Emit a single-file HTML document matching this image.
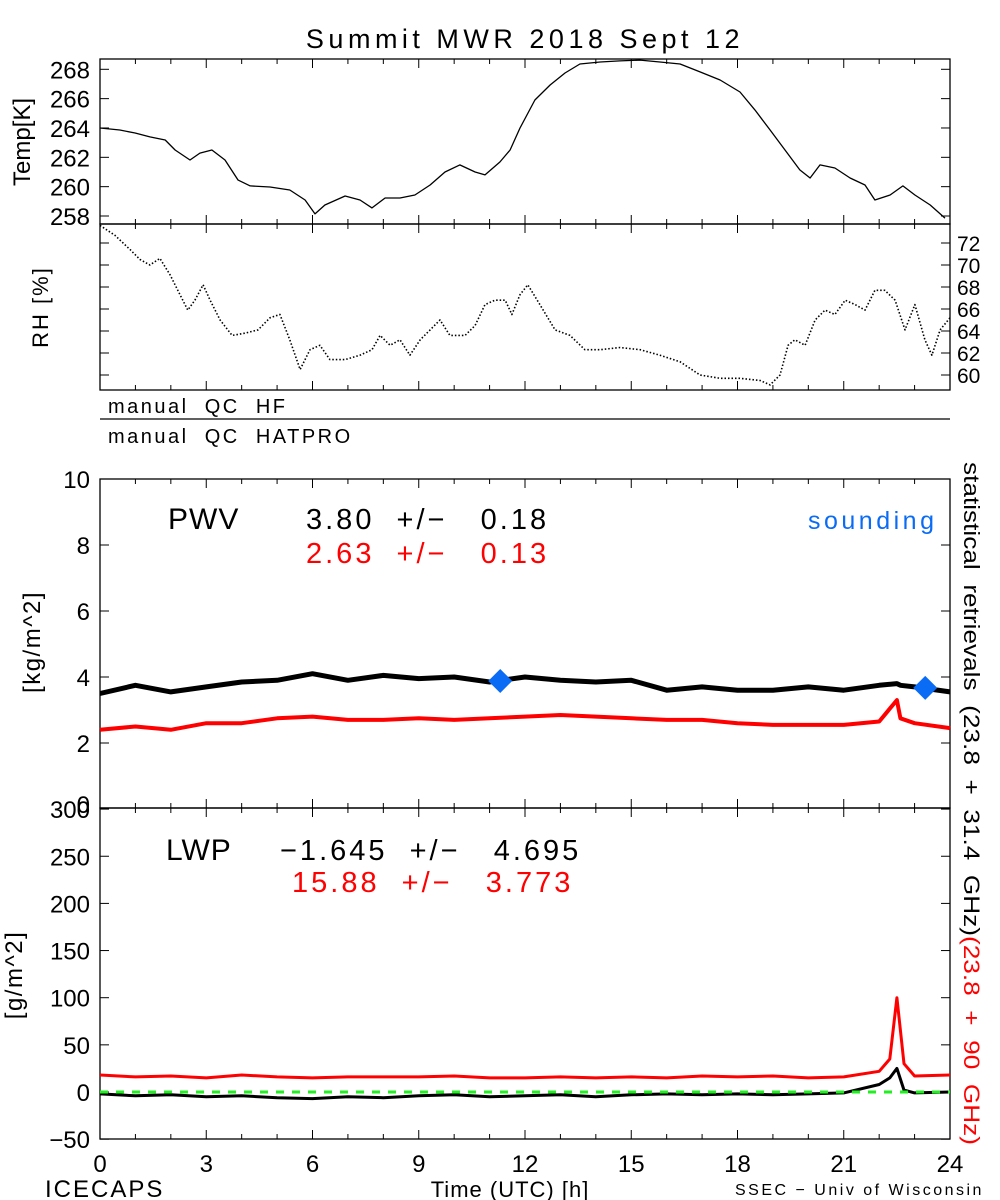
<!DOCTYPE html>
<html><head><meta charset="utf-8"><style>
body{margin:0;background:#fff;}
svg{display:block;font-family:"Liberation Sans",sans-serif;}
text{white-space:pre;}
</style></head><body>
<svg id="chart" width="1000" height="1200" viewBox="0 0 1000 1200"></svg>
<script>
const tempHours=[0,0.56,0.99,1.41,1.84,2.12,2.54,2.82,3.16,3.53,3.9,4.24,4.8,5.36,5.79,6.07,6.35,6.92,7.34,7.68,8.05,8.47,8.89,9.32,9.74,10.16,10.59,10.87,11.29,11.58,11.86,12.28,12.71,13.13,13.55,14.12,14.68,15.25,15.81,16.38,16.94,17.51,18.07,18.49,18.92,19.34,19.76,20.05,20.33,20.75,21.18,21.6,21.88,22.31,22.67,23.01,23.44,23.86];
const tempVals=[264.0,263.86,263.66,263.39,263.18,262.5,261.82,262.29,262.5,261.82,260.45,260.05,259.98,259.77,259.09,258.14,258.75,259.36,259.09,258.55,259.23,259.23,259.43,260.11,261.0,261.48,261.0,260.8,261.68,262.5,264.0,265.91,266.93,267.75,268.36,268.5,268.57,268.63,268.5,268.36,267.82,267.27,266.45,265.23,263.86,262.5,261.14,260.59,261.48,261.27,260.59,260.11,259.09,259.43,260.05,259.43,258.75,257.86];
const rhHours=[0,0.42,0.85,1.13,1.41,1.69,1.98,2.26,2.48,2.68,2.91,3.11,3.39,3.73,4.09,4.46,4.8,5.08,5.36,5.65,5.93,6.21,6.49,6.92,7.34,7.68,7.91,8.19,8.47,8.75,9.04,9.32,9.6,9.88,10.31,10.59,10.87,11.15,11.44,11.63,11.86,12.08,12.42,12.85,13.27,13.69,14.12,14.68,15.25,15.81,16.38,16.94,17.51,18.07,18.64,18.92,19.2,19.43,19.62,19.91,20.19,20.47,20.75,21.04,21.32,21.6,21.88,22.16,22.45,22.73,23.01,23.29,23.49,23.72,24];
const rhVals=[73.6,72.7,71.4,70.5,70.0,70.6,69.1,67.3,65.9,66.8,68.2,66.8,65.0,63.6,63.8,64.1,65.2,65.5,63.2,60.5,62.3,62.7,61.4,61.4,61.8,62.3,63.6,62.7,63.2,61.8,63.2,64.1,65.0,63.6,63.6,64.5,66.4,66.8,66.8,65.5,67.3,68.2,66.4,64.1,63.6,62.3,62.3,62.5,62.3,61.8,61.2,60.0,59.7,59.7,59.5,59.1,60.0,62.7,63.2,62.7,65.0,65.9,65.5,66.8,66.4,65.9,67.7,67.7,66.8,64.1,66.4,63.2,61.8,64.1,65.2];
const pwvHours=[0,1,2,3,4,5,6,7,8,9,10,11,12,13,14,15,16,17,18,19,20,21,22,22.5,22.6,23,24];
const pwvBlack=[3.5,3.75,3.55,3.7,3.85,3.9,4.1,3.9,4.05,3.95,4.0,3.85,4.0,3.9,3.85,3.9,3.6,3.7,3.6,3.6,3.7,3.6,3.75,3.8,3.75,3.7,3.55];
const pwvRed=[2.4,2.5,2.4,2.6,2.6,2.75,2.8,2.7,2.7,2.75,2.7,2.75,2.8,2.85,2.8,2.75,2.7,2.7,2.6,2.55,2.55,2.55,2.65,3.3,2.75,2.6,2.45];
const soundHours=[11.3,23.3];
const soundVals=[3.88,3.67];
const lwpHours=[0,1,2,3,4,5,6,7,8,9,10,11,12,13,14,15,16,17,18,19,20,21,22,22.3,22.5,22.7,23,24];
const lwpRed=[18,16,17,15,18,16,15,16,16,16,17,15,15,16,15,16,15,17,16,17,15,16,22,35,100,30,17,18];
const lwpBlack=[-2,-4,-3,-5,-4,-6,-7,-5,-6,-4,-3,-5,-4,-3,-5,-3,-2,-3,-2,-3,-2,-1,8,15,25,2,-1,0];
const tempTicks=[258,260,262,264,266,268];
const rhTicks=[60,62,64,66,68,70,72];
const pwvTicks=[0,2,4,6,8,10];
const lwpTicks=[-50,0,50,100,150,200,250,300];
const xTicks=[0,3,6,9,12,15,18,21,24];

const NS="http://www.w3.org/2000/svg";
const svg=document.getElementById('chart');
function el(tag,attrs,parent){const e=document.createElementNS(NS,tag);for(const k in attrs)e.setAttribute(k,attrs[k]);(parent||svg).appendChild(e);return e;}
function txt(s,x,y,size,opts){const t=el('text',Object.assign({x:x,y:y,'font-size':size,fill:'#000'},opts||{}));t.textContent=s;return t;}
const X0=100,X1=950;
const xs=h=>X0+h*(X1-X0)/24;
const yT=v=>216-(v-258)*14.67;
const yRH=v=>375-(v-60)*11;
const yP=v=>809-v*33;
const yL=v=>1092-v*0.943;

function frame(name,top,bot){
  const r=el('rect',{x:X0,y:top,width:X1-X0,height:bot-top,fill:'none',stroke:'#000','stroke-width':1.3});
  
  for(let h=0;h<=24;h++){const L=h%3===0?9:5;
    el('line',{x1:xs(h),x2:xs(h),y1:bot,y2:bot-L,stroke:'#000'});
    el('line',{x1:xs(h),x2:xs(h),y1:top,y2:top+L,stroke:'#000'});}
}
function line(name,hs,vs,ys,color,w,dash){
  const d=hs.map((h,i)=>(i?'L':'M')+xs(h).toFixed(1)+','+ys(vs[i]).toFixed(1)).join('');
  const p=el('path',{d:d,fill:'none',stroke:color,'stroke-width':w,'stroke-linejoin':'round'});
  if(dash)p.setAttribute('stroke-dasharray',dash);
  
}
let t=txt('Summit MWR 2018 Sept 12',525,48,27,{'text-anchor':'middle','letter-spacing':4.5});


frame('temp-panel',59,224);
tempTicks.forEach(v=>{el('line',{x1:X0,x2:X0+9,y1:yT(v),y2:yT(v),stroke:'#000'});el('line',{x1:X1,x2:X1-9,y1:yT(v),y2:yT(v),stroke:'#000'});
  const l=txt(String(v),90,yT(v)+9,24,{'text-anchor':'end'});});
line('temp-line',tempHours,tempVals,yT,'#000',1.3);
t=txt('Temp[K]',0,0,24,{transform:'translate(30,142) rotate(-90)','text-anchor':'middle'});


frame('rh-panel',224,390);
rhTicks.forEach(v=>{el('line',{x1:X1,x2:X1-9,y1:yRH(v),y2:yRH(v),stroke:'#000'});el('line',{x1:X0,x2:X0+9,y1:yRH(v),y2:yRH(v),stroke:'#000'});
  const l=txt(String(v),957,yRH(v)+8,21,{});});
line('rh-line',rhHours,rhVals,yRH,'#000',1.6,'1.5 2');
t=txt('RH [%]',0,0,22,{transform:'translate(48,307) rotate(-90)','text-anchor':'middle','letter-spacing':2});


t=txt('manual  QC  HF',108,413,20,{'letter-spacing':2.5});
el('line',{x1:X0,x2:X1,y1:419,y2:419,stroke:'#000','stroke-width':1.3});
t=txt('manual  QC  HATPRO',108,443,20,{'letter-spacing':2.5});

frame('pwv-panel',479,808);
pwvTicks.forEach(v=>{el('line',{x1:X0,x2:X0+9,y1:yP(v),y2:yP(v),stroke:'#000'});el('line',{x1:X1,x2:X1-9,y1:yP(v),y2:yP(v),stroke:'#000'});
  const l=txt(String(v),90,Math.min(yP(v)+9,813),24,{'text-anchor':'end'});});
line('pwv-black-line',pwvHours,pwvBlack,yP,'#000',5);
line('pwv-red-line',pwvHours,pwvRed,yP,'#f00',4);
soundHours.forEach((h,i)=>{const cx=xs(h),cy=yP(soundVals[i]);
  const d=el('polygon',{points:`${cx},${cy-12} ${cx+12},${cy} ${cx},${cy+12} ${cx-12},${cy}`,fill:'#0a6cf5'});
  });
t=txt('[kg/m^2]',0,0,24,{transform:'translate(40,642) rotate(-90)','text-anchor':'middle','letter-spacing':1.5});

t=txt('PWV',168,529,30,{'letter-spacing':1});
t=txt('3.80  +/−   0.18',306,529,29,{'letter-spacing':3});
t=txt('2.63  +/−   0.13',306,563,29,{fill:'#f00','letter-spacing':3});
t=txt('sounding',808,529,25,{fill:'#0a6cf5','letter-spacing':3.5});

frame('lwp-panel',808,1139);
lwpTicks.forEach(v=>{el('line',{x1:X0,x2:X0+9,y1:yL(v),y2:yL(v),stroke:'#000'});el('line',{x1:X1,x2:X1-9,y1:yL(v),y2:yL(v),stroke:'#000'});
  const l=txt(v<0?'−'+Math.abs(v):String(v),90,yL(v)+9,24,{'text-anchor':'end'});});
line('lwp-red-line',lwpHours,lwpRed,yL,'#f00',3);
line('lwp-black-line',lwpHours,lwpBlack,yL,'#000',3);
const zl=el('line',{x1:X0,x2:X1,y1:yL(0),y2:yL(0),stroke:'#22ee22','stroke-width':3,'stroke-dasharray':'8 8'});

t=txt('[g/m^2]',0,0,24,{transform:'translate(22,975) rotate(-90)','text-anchor':'middle','letter-spacing':1.5});

t=txt('LWP',166,860,30,{'letter-spacing':1});
t=txt('−1.645  +/−   4.695',280,860,29,{'letter-spacing':3});
t=txt('15.88  +/−   3.773',292,892,29,{fill:'#f00','letter-spacing':3});

const rt=el('text',{transform:'translate(964,462) rotate(90)','font-size':22,fill:'#000'});

const s1=el('tspan',{},rt);s1.textContent='statistical  retrievals  (23.8  +  31.4  GHz)';
const s2=el('tspan',{fill:'#f00'},rt);s2.textContent='(23.8  +  90  GHz)';
rt.setAttribute('textLength','683');rt.setAttribute('lengthAdjust','spacingAndGlyphs');

xTicks.forEach(h=>{const l=txt(String(h),xs(h),1172,24,{'text-anchor':'middle'});});
t=txt('ICECAPS',45,1197,24,{'letter-spacing':2});
t=txt('Time (UTC) [h]',510,1197,22,{'text-anchor':'middle','letter-spacing':1});
t=txt('SSEC − Univ of Wisconsin',735,1195,16,{'letter-spacing':2.5});
</script>
</body></html>
